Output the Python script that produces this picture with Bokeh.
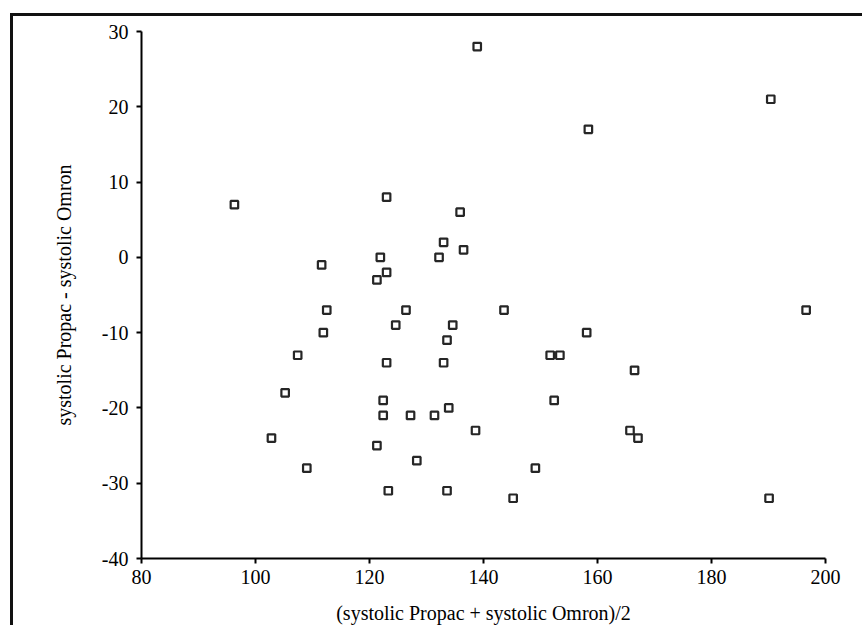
from bokeh.plotting import figure
from bokeh.models import Range1d, FixedTicker, ColumnDataSource, CustomJSTickFormatter
from bokeh.embed import file_html
from bokeh.resources import INLINE

# Mean of the two systolic readings (x) and their difference (y)
mean_systolic = [96.3, 111.6, 138.9, 158.4, 123.0, 135.9, 133.0, 136.5, 121.9, 132.2,
                 123.0, 121.3, 190.4, 112.5, 111.9, 107.4, 105.2, 102.8, 109.0, 126.4,
                 124.6, 134.6, 133.6, 143.6, 158.1, 151.7, 153.4, 123.0, 133.0, 122.4,
                 122.4, 127.2, 131.4, 133.9, 138.6, 152.4, 121.3, 128.3, 123.3, 133.6,
                 149.1, 145.2, 196.6, 166.5, 165.7, 167.1, 190.1]
diff_systolic = [7, -1, 28, 17, 8, 6, 2, 1, 0, 0,
                 -2, -3, 21, -7, -10, -13, -18, -24, -28, -7,
                 -9, -9, -11, -7, -10, -13, -13, -14, -14, -19,
                 -21, -21, -21, -20, -23, -19, -25, -27, -31, -31,
                 -28, -32, -7, -15, -23, -24, -32]

x_ticks = [80, 100, 120, 140, 160, 180, 200]
y_ticks = [-40, -30, -20, -10, 0, 10, 20, 30]

src = ColumnDataSource(data=dict(x=mean_systolic, y=diff_systolic))

FONT = "Liberation Serif"

p = figure(width=852, height=612, output_backend="svg", toolbar_location=None,
           x_range=Range1d(80, 200), y_range=Range1d(-40, 30),
           min_border_left=128, min_border_top=15, min_border_right=40,
           min_border_bottom=70)
p.styles = {"border-left": "3px solid #111", "border-top": "3px solid #111",
            "margin-left": "10px", "margin-top": "13px"}
p.outline_line_color = None
p.xgrid.visible = False
p.ygrid.visible = False
p.background_fill_color = "white"
p.border_fill_color = "white"

p.scatter("x", "y", source=src, marker="square", size=7.5, line_width=2.2,
          line_color="#262626", fill_color="white")

p.xaxis.ticker = FixedTicker(ticks=x_ticks)
p.yaxis.ticker = FixedTicker(ticks=y_ticks)
p.yaxis.formatter = CustomJSTickFormatter(code="return tick.toString();")
p.xaxis.axis_label = "(systolic Propac + systolic Omron)/2"
p.yaxis.axis_label = "systolic Propac - systolic Omron"

for ax in (p.xaxis, p.yaxis):
    ax.axis_line_width = 2
    ax.axis_line_color = "black"
    ax.major_tick_line_width = 2
    ax.major_tick_line_color = "black"
    ax.major_tick_out = 5
    ax.major_tick_in = 0
    ax.minor_tick_line_color = None
    ax.major_label_text_font = FONT
    ax.major_label_text_font_size = "20px"
    ax.major_label_text_color = "black"
    ax.axis_label_text_font = FONT
    ax.axis_label_text_font_size = "20px"
    ax.axis_label_text_font_style = "normal"
    ax.axis_label_text_color = "black"

p.xaxis.major_label_standoff = 6
p.yaxis.major_label_standoff = 8
p.xaxis.axis_label_standoff = 15
p.yaxis.axis_label_standoff = 24

open("out.html", "w").write(file_html(p, INLINE))
